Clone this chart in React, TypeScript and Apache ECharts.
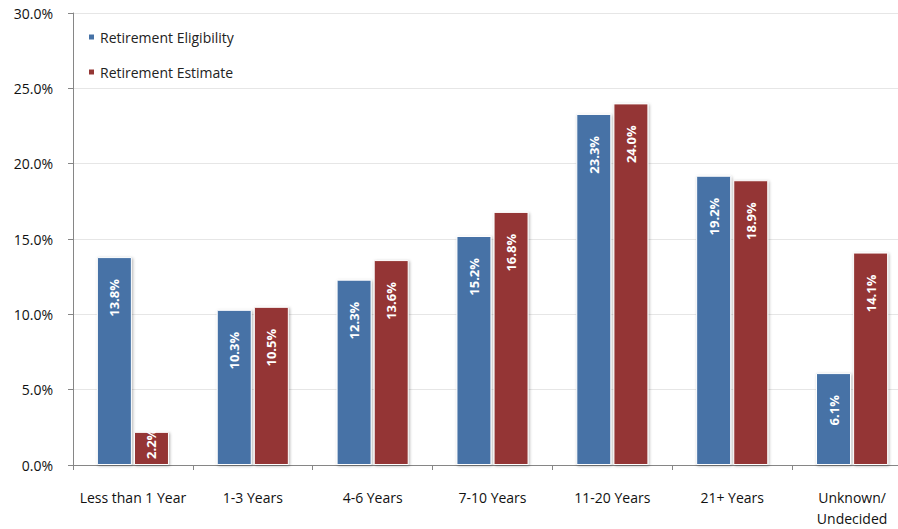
import React, { useEffect, useRef } from "react";
import * as echarts from "echarts";

const categories = [
  "Less than 1 Year",
  "1-3 Years",
  "4-6 Years",
  "7-10 Years",
  "11-20 Years",
  "21+ Years",
  "Unknown/\nUndecided",
];
const eligibility = [13.8, 10.3, 12.3, 15.2, 23.3, 19.2, 6.1];
const estimate = [2.2, 10.5, 13.6, 16.8, 24.0, 18.9, 14.1];
const seriesNames = ["Retirement Eligibility", "Retirement Estimate"];
const colors = ["#4672A6", "#943634"];

const FONT = "'Open Sans', 'Noto Sans', sans-serif";
const CHART_W = 912;
const CHART_H = 529;

function makeData(values: number[]) {
  return values.map((v) =>
    v < 5
      ? {
          value: v,
          label: { position: "insideBottom" as const, align: "left" as const, distance: 6 },
        }
      : { value: v }
  );
}

export default function App() {
  const ref = useRef<HTMLDivElement>(null);
  useEffect(() => {
    document.body.style.margin = "0";
    document.documentElement.style.overflow = "hidden";
    if (!ref.current) return;
    const chart = echarts.init(ref.current, null, { renderer: "svg", width: CHART_W, height: CHART_H });
    const label = {
      show: true,
      position: "insideTop" as const,
      rotate: 90,
      align: "right" as const,
      verticalAlign: "middle" as const,
      distance: 22,
      color: "#ffffff",
      fontWeight: "bold" as const,
      fontSize: 13,
      fontFamily: FONT,
      formatter: (p: any) => Number(p.value).toFixed(1) + "%",
    };
    const itemStyleFor = (c: string) => ({
      color: c,
      borderColor: "#ffffff",
      borderWidth: 1,
      shadowColor: "rgba(0,0,0,0.3)",
      shadowBlur: 3,
      shadowOffsetX: 1,
      shadowOffsetY: 1,
    });
    chart.setOption({
      animation: false,
      backgroundColor: "#ffffff",
      grid: { left: 73, right: 0, top: 13, bottom: 59, containLabel: false },
      legend: {
        orient: "vertical",
        left: 82,
        top: 25,
        itemGap: 21,
        itemWidth: 7,
        itemHeight: 7,
        icon: "rect",
        textStyle: { fontFamily: FONT, fontSize: 14, color: "#222" },
        data: seriesNames,
      },
      xAxis: {
        type: "category",
        data: categories,
        axisLine: { lineStyle: { color: "#868686", width: 1 } },
        axisTick: { show: true, alignWithLabel: false, length: 5, lineStyle: { color: "#868686" } },
        axisLabel: {
          fontFamily: FONT,
          fontSize: 14,
          color: "#111",
          margin: 22,
          lineHeight: 21,
          interval: 0,
        },
      },
      yAxis: {
        type: "value",
        min: 0,
        max: 30,
        interval: 5,
        axisLine: { show: true, lineStyle: { color: "#868686", width: 1 } },
        axisTick: { show: true, length: 5, lineStyle: { color: "#868686" } },
        axisLabel: {
          fontFamily: FONT,
          fontSize: 14,
          color: "#111",
          margin: 20,
          formatter: (v: number) => v.toFixed(1) + "%",
        },
        splitLine: { show: true, lineStyle: { color: "#E6E6E6", width: 1 } },
      },
      series: [
        {
          name: seriesNames[0],
          type: "bar",
          data: makeData(eligibility),
          barWidth: 35,
          barGap: "6%",
          itemStyle: itemStyleFor(colors[0]),
          label,
        },
        {
          name: seriesNames[1],
          type: "bar",
          data: makeData(estimate),
          barWidth: 35,
          barGap: "6%",
          itemStyle: itemStyleFor(colors[1]),
          label,
        },
      ],
    });
    return () => chart.dispose();
  }, []);
  return (
    <div style={{ position: "fixed", left: 0, top: 0, width: 898, height: 529, overflow: "hidden" }}>
      <div ref={ref} style={{ width: CHART_W, height: CHART_H }} />
    </div>
  );
}
